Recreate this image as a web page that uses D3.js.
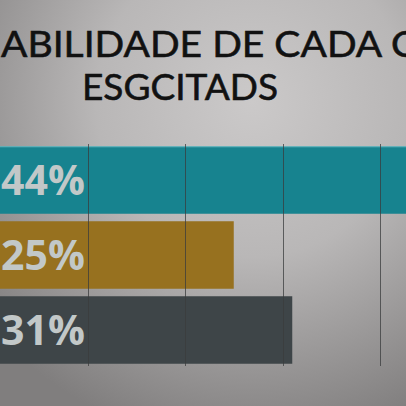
<!DOCTYPE html>
<html><head><meta charset="utf-8">
<script src="https://cdn.jsdelivr.net/npm/d3@7"></script>
<style>html,body{margin:0;padding:0;overflow:hidden;background:#aaa}</style>
</head><body><div id="chart"></div>
<script>
const titleLines = ["ABILIDADE DE CADA C", "ESGCITADS"];
const categories = ["A", "B", "C"];
const values = [44, 25, 31];
const labels = ["44%", "25%", "31%"];
const barColors = ["#17838f", "#97711f", "#3e4548"];
const gridTicks = [10, 20, 30, 40];

const W = 406, H = 406;
const svg = d3.select("#chart").append("svg").attr("width", W).attr("height", H);
const defs = svg.append("defs");
const rg = defs.append("radialGradient").attr("id", "bg")
  .attr("cx", 0.62).attr("cy", 0.25).attr("r", 0.85);
rg.append("stop").attr("offset", "0%").attr("stop-color", "#cbc9c9");
rg.append("stop").attr("offset", "45%").attr("stop-color", "#b9b7b7");
rg.append("stop").attr("offset", "100%").attr("stop-color", "#807e7e");
svg.append("rect").attr("width", W).attr("height", H).attr("fill", "url(#bg)");

const x = d3.scaleLinear().domain([0, 40]).range([-10, 380]);
const y = d3.scaleBand().domain(categories).range([144, 366]).paddingInner(0.1).paddingOuter(0.03);

// title
svg.append("text").attr("x", 1).attr("y", 57).text(titleLines[0])
  .attr("font-family", "Lato, 'Open Sans', sans-serif").attr("font-size", 37)
  .attr("fill", "#111").attr("stroke", "#111").attr("stroke-width", 0.6)
  .attr("textLength", 416).attr("lengthAdjust", "spacingAndGlyphs");
svg.append("text").attr("x", 82).attr("y", 100).text(titleLines[1])
  .attr("font-family", "Lato, 'Open Sans', sans-serif").attr("font-size", 37)
  .attr("fill", "#111").attr("stroke", "#111").attr("stroke-width", 0.6)
  .attr("textLength", 196).attr("lengthAdjust", "spacingAndGlyphs");

// bars
svg.selectAll("rect.bar").data(values).join("rect").attr("class", "bar")
  .attr("x", x(0)).attr("y", (d, i) => y(categories[i]))
  .attr("width", d => x(d) - x(0)).attr("height", y.bandwidth())
  .attr("fill", (d, i) => barColors[i]);
svg.append("line").attr("x1", 0).attr("x2", W).attr("y1", y(categories[0]) + 0.5).attr("y2", y(categories[0]) + 0.5)
  .attr("stroke", "#7fc7cf").attr("stroke-width", 1).attr("opacity", 0.8);

// grid
svg.selectAll("line.grid").data(gridTicks).join("line").attr("class", "grid")
  .attr("x1", d => Math.round(x(d)) + 0.5).attr("x2", d => Math.round(x(d)) + 0.5)
  .attr("y1", 144).attr("y2", 366)
  .attr("stroke", "#3a3c3d").attr("stroke-width", 1).attr("opacity", 0.75);

// labels
svg.selectAll("text.lab").data(labels).join("text").attr("class", "lab")
  .attr("x", 1).attr("y", (d, i) => y(categories[i]) + y.bandwidth() / 2 + 15)
  .text(d => d)
  .attr("font-family", "'Open Sans', sans-serif").attr("font-weight", 700).attr("font-size", 41)
  .attr("fill", "#c2c8c8");
</script></body></html>
